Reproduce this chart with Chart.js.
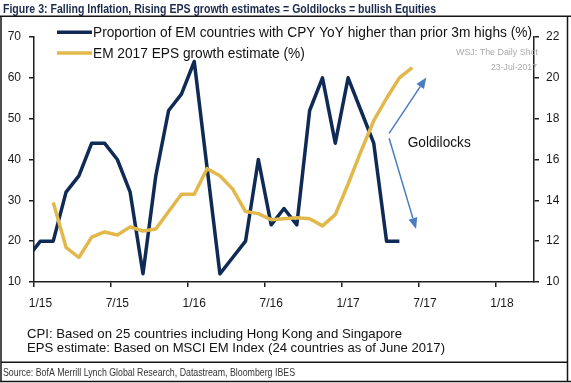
<!DOCTYPE html>
<html><head><meta charset="utf-8">
<script src="https://cdn.jsdelivr.net/npm/chart.js@4/dist/chart.umd.min.js"></script>
<style>
html,body{margin:0;padding:0;background:#fff;}
#wrap{position:relative;width:571px;height:383px;overflow:hidden;}
canvas{display:block;}
</style></head><body>
<div id="wrap"><canvas id="c" width="571" height="383"></canvas></div>
<script>
// ---- data ----
const months = ['2014-12',
  '2015-01','2015-02','2015-03','2015-04','2015-05','2015-06','2015-07','2015-08','2015-09','2015-10','2015-11','2015-12',
  '2016-01','2016-02','2016-03','2016-04','2016-05','2016-06','2016-07','2016-08','2016-09','2016-10','2016-11','2016-12',
  '2017-01','2017-02','2017-03','2017-04','2017-05','2017-06'];
const cpiShare = [16,
  20,20,32,36,44,44,40,32,12,36,52,56,
  64,38,12,16,20,40,24,28,24,52,60,44,
  60,52,44,20,20,null];
const epsGrowth = [null,
  null,13.9,11.7,11.2,12.2,12.45,12.3,12.7,12.5,12.6,13.45,14.3,
  14.3,15.55,15.2,14.55,13.45,13.35,13.05,13.1,13.15,13.1,12.75,13.3,
  14.8,16.4,17.9,19.0,20.0,20.5];
const xTickLabels = ['1/15','7/15','1/16','7/16','1/17','7/17','1/18'];
const leftTicks = [10,20,30,40,50,60,70];
const rightTicks = [10,12,14,16,18,20,22];
const seriesNames = ['Proportion of EM countries with CPY YoY higher than prior 3m highs (%)',
                     'EM 2017 EPS growth estimate (%)'];
const titleText = 'Figure 3: Falling Inflation, Rising EPS growth estimates = Goldilocks = bullish Equities';
const noteLines = ['CPI: Based on 25 countries including Hong Kong and Singapore',
                   'EPS estimate: Based on MSCI EM Index (24 countries as of June 2017)'];
const sourceText = 'Source: BofA Merrill Lynch Global Research, Datastream, Bloomberg IBES';
const annotationText = 'Goldilocks';
const watermark = ['WSJ: The Daily Shot', '23-Jul-2017'];

// month string -> months since Jan 2015, plotted mid-month
const monthPos = m => { const [y, mo] = m.split('-').map(Number); return (y - 2015) * 12 + (mo - 1) + 0.5; };

// annotation arrows in data units (x: months, y: left axis)
const arrows = [
  {from: [27.7, 46.4], to: [30.6, 60.1]},
  {from: [27.7, 45.2], to: [29.8, 23.0]}
];
const annotationPos = [29.15, 44.0];

const NAVY = '#0f2a55', GOLD = '#e2b84a', AXIS = '#1f1f1f';
const SANS = '"Liberation Sans", Arial, sans-serif';
const NARROW = '"Liberation Sans Narrow", "Arial Narrow", "Liberation Sans", Arial, sans-serif';

function fitText(ctx, text, x, y, w, align) {
  const m = ctx.measureText(text).width;
  const s = w / m;
  ctx.save();
  ctx.translate(x, y);
  ctx.scale(s, 1);
  ctx.textAlign = 'left';
  ctx.fillText(text, align === 'right' ? -m : 0, 0);
  ctx.restore();
}

const decor = {
  id: 'decor',
  afterDraw(chart) {
    const ctx = chart.ctx;
    const sx = chart.scales.x, sy = chart.scales.y;
    ctx.save();
    ctx.textBaseline = 'alphabetic';
    // title
    ctx.fillStyle = '#1b2a4e';
    ctx.font = 'bold 12.5px ' + NARROW;
    fitText(ctx, titleText, 3, 12.5, 433);
    // frame
    ctx.strokeStyle = '#151515';
    ctx.lineWidth = 1.5;
    ctx.beginPath();
    ctx.moveTo(0, 16.2); ctx.lineTo(571, 16.2);
    ctx.moveTo(1, 16.2); ctx.lineTo(1, 381.5);
    ctx.moveTo(567.5, 16.2); ctx.lineTo(567.5, 381.5);
    ctx.moveTo(0, 381.5); ctx.lineTo(571, 381.5);
    ctx.moveTo(1, 362.2); ctx.lineTo(567.5, 362.2);
    ctx.stroke();
    // watermark
    ctx.fillStyle = '#ababab';
    ctx.font = '9px ' + SANS;
    fitText(ctx, watermark[0], 538, 54.5, 82, 'right');
    fitText(ctx, watermark[1], 537, 70, 46, 'right');
    // legend
    const rows = [{y: 32.3, tb: 36.5, w: 439}, {y: 53, tb: 57.5, w: 210}];
    chart.data.datasets.forEach((ds, i) => {
      const r = rows[i];
      ctx.strokeStyle = ds.borderColor;
      ctx.lineWidth = 3.5;
      ctx.lineCap = 'butt';
      ctx.beginPath(); ctx.moveTo(57, r.y); ctx.lineTo(92, r.y); ctx.stroke();
      ctx.fillStyle = '#111';
      ctx.font = '14px ' + SANS;
      fitText(ctx, ds.label, 93, r.tb, i === 0 ? r.w : ctx.measureText(ds.label).width * 439 / ctx.measureText(chart.data.datasets[0].label).width);
    });
    // arrows
    ctx.strokeStyle = '#4a7cc0';
    ctx.fillStyle = '#4a7cc0';
    ctx.lineWidth = 1.5;
    arrows.forEach(a => {
      const x0 = sx.getPixelForValue(a.from[0]), y0 = sy.getPixelForValue(a.from[1]);
      const x1 = sx.getPixelForValue(a.to[0]), y1 = sy.getPixelForValue(a.to[1]);
      const ang = Math.atan2(y1 - y0, x1 - x0);
      const L = 11, H = 4.5;
      const bx = x1 - L * Math.cos(ang), by = y1 - L * Math.sin(ang);
      ctx.beginPath(); ctx.moveTo(x0, y0); ctx.lineTo(bx, by); ctx.stroke();
      ctx.beginPath();
      ctx.moveTo(x1, y1);
      ctx.lineTo(bx + H * Math.sin(ang), by - H * Math.cos(ang));
      ctx.lineTo(bx - H * Math.sin(ang), by + H * Math.cos(ang));
      ctx.closePath(); ctx.fill();
    });
    ctx.fillStyle = '#111';
    ctx.font = '15px ' + SANS;
    ctx.textBaseline = 'middle';
    fitText(ctx, annotationText, sx.getPixelForValue(annotationPos[0]), sy.getPixelForValue(annotationPos[1]), 63);
    // notes
    ctx.textBaseline = 'alphabetic';
    ctx.fillStyle = '#111';
    ctx.font = '13px ' + SANS;
    fitText(ctx, noteLines[0], 27, 337.7, 375);
    fitText(ctx, noteLines[1], 27, 352.3, 418);
    ctx.fillStyle = '#333';
    ctx.font = '10.5px ' + NARROW;
    fitText(ctx, sourceText, 3, 375.8, 292);
    ctx.restore();
  }
};

const tickFont = {family: SANS, size: 12};
const axisCommon = {
  grid: {drawOnChartArea: false, drawTicks: true, tickLength: 5, color: AXIS, lineWidth: 1.5},
  border: {display: true, color: AXIS, width: 1.5}
};

new Chart(document.getElementById('c'), {
  type: 'line',
  data: {
    datasets: [
      {label: seriesNames[0], data: months.map((m, i) => ({x: monthPos(m), y: cpiShare[i]})),
       borderColor: NAVY, borderWidth: 3.5, pointRadius: 0, tension: 0, yAxisID: 'y', clip: 0,
       borderJoinStyle: 'round', order: 2},
      {label: seriesNames[1], data: months.map((m, i) => ({x: monthPos(m), y: epsGrowth[i]})),
       borderColor: GOLD, borderWidth: 3.5, pointRadius: 0, tension: 0, yAxisID: 'y1', clip: 0,
       borderJoinStyle: 'round', order: 1}
    ]
  },
  options: {
    responsive: false, animation: false, devicePixelRatio: 1,
    layout: {padding: {top: 37, left: 0, right: 0, bottom: 71}},
    plugins: {legend: {display: false}, tooltip: {enabled: false}},
    scales: {
      x: Object.assign({}, axisCommon, {
        type: 'linear', min: 0, max: 39,
        afterBuildTicks: s => { s.ticks = xTickLabels.map((_, i) => ({value: i * 6})); },
        ticks: {callback: v => xTickLabels[Math.round(v / 6)], maxRotation: 0, autoSkip: false,
                padding: 9, labelOffset: 6.4, color: '#1a1a1a', font: tickFont},
        afterFit: s => { s.height = 30; }
      }),
      y: Object.assign({}, axisCommon, {
        position: 'left', min: 10, max: 70,
        afterBuildTicks: s => { s.ticks = leftTicks.map(v => ({value: v})); },
        ticks: {callback: v => String(v), padding: 8, color: '#1a1a1a', font: tickFont},
        afterFit: s => { s.width = 34; }
      }),
      y1: Object.assign({}, axisCommon, {
        position: 'right', min: 10, max: 22,
        afterBuildTicks: s => { s.ticks = rightTicks.map(v => ({value: v})); },
        ticks: {callback: v => String(v), padding: 7, color: '#1a1a1a', font: tickFont},
        afterFit: s => { s.width = 37; }
      })
    }
  },
  plugins: [decor]
});
</script>
</body></html>
